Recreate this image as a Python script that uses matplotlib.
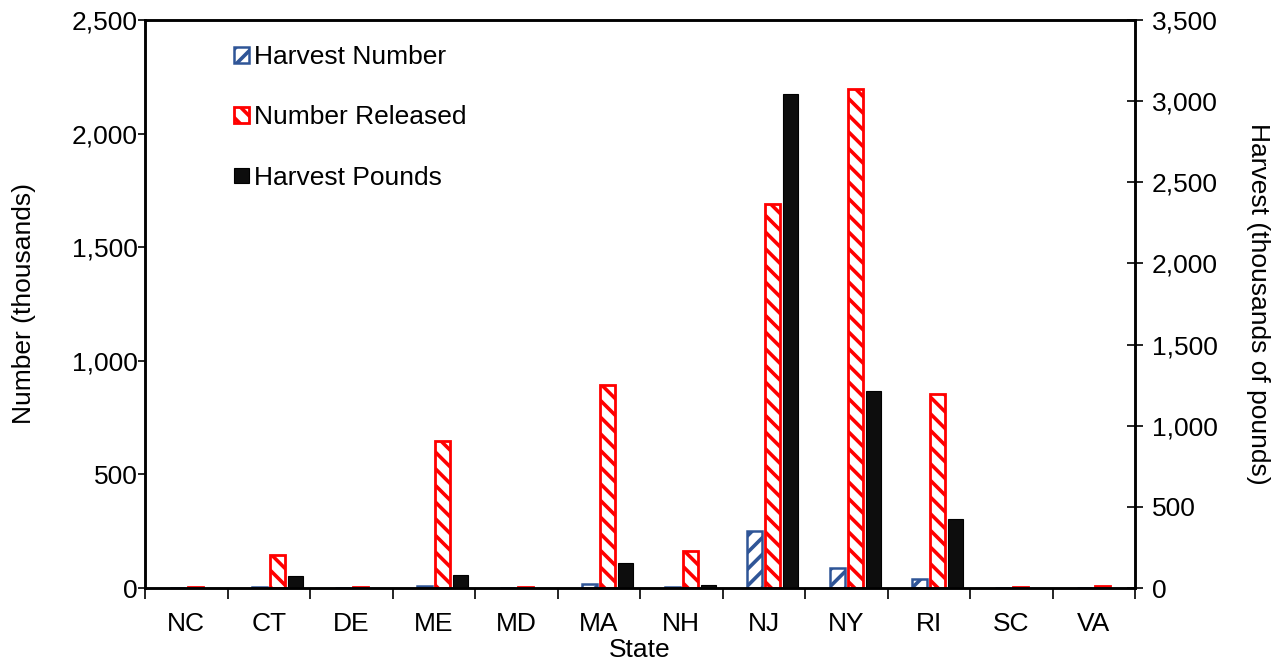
import matplotlib
matplotlib.use("Agg")
import matplotlib.pyplot as plt
import numpy as np

states = ["NC", "CT", "DE", "ME", "MD", "MA", "NH", "NJ", "NY", "RI", "SC", "VA"]
harvest_number = [0, 5, 0, 8, 0, 18, 3, 251, 89, 38, 0, 0]
number_released = [5, 144, 5, 648, 3, 892, 161, 1690, 2196, 855, 4, 8]
harvest_pounds = [0, 74, 0, 82, 0, 156, 20, 3042, 1212, 423, 0, 0]

left_ticks = [0, 500, 1000, 1500, 2000, 2500]
right_ticks = [0, 500, 1000, 1500, 2000, 2500, 3000, 3500]

plt.rcParams['font.family'] = ['Liberation Sans', 'DejaVu Sans']
plt.rcParams['hatch.linewidth'] = 2.6
FS = 19

fig = plt.figure(figsize=(12.84, 6.62), dpi=100)
ax = fig.add_axes([145/1284, 74/662, 990/1284, 568/662])
ax2 = ax.twinx()

x = np.arange(len(states))
w = 0.185
blue = "#2F5597"
red = "#FF0000"

b1 = ax.bar(x - 0.11, harvest_number, w, facecolor="white", edgecolor=blue,
            hatch="//", linewidth=1.8, label="Harvest Number")
b2 = ax.bar(x + 0.11, number_released, w, facecolor="white", edgecolor=red,
            hatch="\\\\", linewidth=2.0, label="Number Released")
b3 = ax2.bar(x + 0.327, harvest_pounds, w, facecolor="#0D0D0D", edgecolor="#000000",
             linewidth=0.8, label="Harvest Pounds")

ax.set_xlim(-0.5, len(states) - 0.5)
ax.set_ylim(0, 2500)
ax2.set_ylim(0, 3500)

ax.set_yticks(left_ticks)
ax.set_yticklabels([f"{v:,}" for v in left_ticks])
ax2.set_yticks(right_ticks)
ax2.set_yticklabels([f"{v:,}" for v in right_ticks])

ax.set_xticks(x)
ax.set_xticklabels(states)
ax.set_xticks(np.arange(-0.5, len(states) + 0.5, 1), minor=True)
ax.tick_params(axis='x', which='major', length=0, pad=17, labelsize=FS)
ax.tick_params(axis='x', which='minor', length=8, width=1.2, direction='out')
ax.tick_params(axis='y', which='major', length=5, width=1.2, direction='out', labelsize=FS, pad=0)
ax2.tick_params(axis='y', which='major', length=12, width=1.2, direction='inout', labelsize=FS, pad=6)

for a in (ax, ax2):
    for s in a.spines.values():
        s.set_linewidth(1.8)
        s.set_color("black")

ax.set_ylabel("Number (thousands)", fontsize=FS, labelpad=26)
ax2.set_ylabel("Harvest (thousands of pounds)", fontsize=FS, rotation=-90, labelpad=38)
ax.set_xlabel("State", fontsize=FS, labelpad=2)

leg = ax2.legend(handles=[b1, b2, b3], loc='upper left',
                 bbox_to_anchor=(234/1284, 1 - 45/662), bbox_transform=fig.transFigure,
                 frameon=False, fontsize=FS, handlelength=0.55, handleheight=0.55,
                 handletextpad=0.2, labelspacing=1.38, borderpad=0, borderaxespad=0)

fig.savefig("out.png", dpi=100)
